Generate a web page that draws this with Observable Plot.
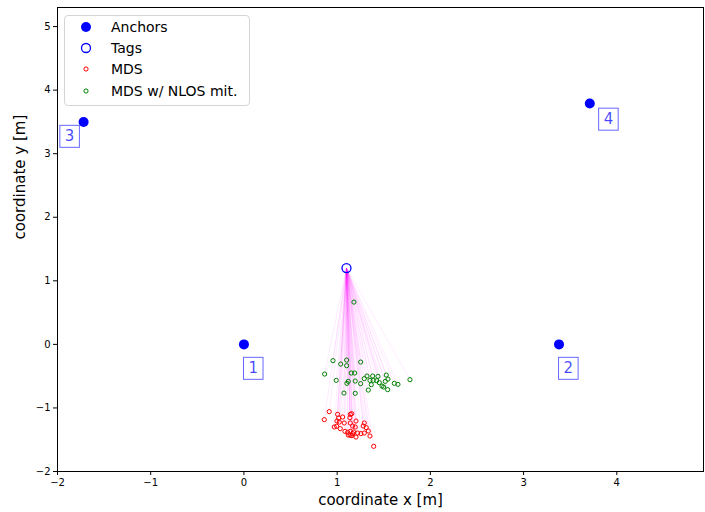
<!DOCTYPE html>
<html>
<head>
<meta charset="utf-8">
<script src="https://cdn.jsdelivr.net/npm/d3@7"></script>
<script src="https://cdn.jsdelivr.net/npm/@observablehq/plot@0.6"></script>
<style>
  body { margin: 0; background: #fff; }
  #wrap { position: relative; width: 705px; height: 512px; font-family: "DejaVu Sans", sans-serif; }
  #legend { position: absolute; left: 64px; top: 15px; width: 184px; height: 89px; border: 1px solid #d5d5d5; border-radius: 4px; background: rgba(255,255,255,0.85); font: 14px "DejaVu Sans", sans-serif; color: #000; }
  .row { position: absolute; left: 0; height: 20px; }
  .row svg { position: absolute; left: 11px; top: 0; }
  .row span { position: absolute; left: 46px; top: 1px; white-space: nowrap; line-height: 18px; }
</style>
</head>
<body>
<div id="wrap"><div id="legend"></div></div>
<script>
// ---- data ----
const anchorX = [0, 3.38, -1.72, 3.71];
const anchorY = [0, 0, 3.50, 3.79];
const anchorLabel = ["1", "2", "3", "4"];
const labelX = [0.10, 3.48, -1.87, 3.91];
const labelY = [-0.38, -0.38, 3.27, 3.54];

const tagX = [1.10];
const tagY = [1.20];

const mdsX = [0.915,0.862,1.005,1.016,1.059,1.141,1.156,1.137,1.202,0.998,1.023,1.076,1.141,1.166,1.194,1.291,1.280,0.969,0.995,1.033,1.084,1.113,1.141,1.166,1.202,1.141,1.220,1.255,1.291,1.312,1.334,1.352,1.392,1.177,1.119,1.159];
const mdsY = [-1.058,-1.184,-1.101,-1.159,-1.143,-1.101,-1.090,-1.153,-1.206,-1.206,-1.222,-1.237,-1.237,-1.285,-1.300,-1.237,-1.285,-1.300,-1.289,-1.325,-1.368,-1.384,-1.368,-1.404,-1.458,-1.431,-1.395,-1.404,-1.395,-1.310,-1.363,-1.442,-1.604,-1.379,-1.426,-1.436];

const nlosX = [0.955,1.102,1.038,1.102,1.252,0.866,1.151,1.188,0.990,1.119,1.105,1.194,1.252,1.291,1.320,1.381,1.438,1.527,1.352,1.387,1.424,1.452,1.366,1.481,1.516,1.545,1.613,1.652,1.781,1.499,1.334,1.542,1.073,1.194,1.180];
const nlosY = [-0.256,-0.247,-0.310,-0.335,-0.278,-0.467,-0.451,-0.451,-0.566,-0.582,-0.613,-0.577,-0.618,-0.539,-0.498,-0.498,-0.503,-0.483,-0.566,-0.566,-0.571,-0.602,-0.634,-0.656,-0.582,-0.546,-0.613,-0.629,-0.555,-0.671,-0.719,-0.712,-0.766,-0.770,0.665];

const xTicks = [-2, -1, 0, 1, 2, 3, 4];
const yTicks = [-2, -1, 0, 1, 2, 3, 4, 5];
const xTitle = "coordinate x [m]";
const yTitle = "coordinate y [m]";
const legendLabels = ["Anchors", "Tags", "MDS", "MDS w/ NLOS mit."];

// ---- tables ----
const anchors = anchorX.map((x, i) => ({x, y: anchorY[i]}));
const labels = labelX.map((x, i) => ({x, y: labelY[i], t: anchorLabel[i]}));
const tags = tagX.map((x, i) => ({x, y: tagY[i]}));
const mds = mdsX.map((x, i) => ({x, y: mdsY[i]}));
const nlos = nlosX.map((x, i) => ({x, y: nlosY[i]}));
const links = [...nlos, ...mds].map(d => ({x1: tagX[0], y1: tagY[0], x2: d.x, y2: d.y}));

const chart = Plot.plot({
  width: 705,
  height: 512,
  marginLeft: 57,
  marginRight: 2,
  marginTop: 7,
  marginBottom: 41,
  style: {fontFamily: "DejaVu Sans, sans-serif", fontSize: "10px", color: "#000", background: "#fff"},
  x: {domain: [-2, 4.93]},
  y: {domain: [-2, 5.3]},
  marks: [
    Plot.link(links, {x1: "x1", y1: "y1", x2: "x2", y2: "y2", stroke: "#ff00ff", strokeOpacity: 0.16, strokeWidth: 0.5}),
    Plot.dot(anchors, {x: "x", y: "y", r: 5, fill: "blue", stroke: "none"}),
    Plot.dot(tags, {x: "x", y: "y", r: 4.5, fill: "none", stroke: "blue", strokeWidth: 1.3}),
    Plot.dot(mds, {x: "x", y: "y", r: 2.1, fill: "none", stroke: "red", strokeWidth: 1}),
    Plot.dot(nlos, {x: "x", y: "y", r: 2.1, fill: "none", stroke: "green", strokeWidth: 1}),
    Plot.text(labels, {x: "x", y: "y", text: "t", fontSize: 15, fill: "blue", fillOpacity: 0.72}),
    Plot.frame({stroke: "#000", strokeWidth: 1}),
    Plot.axisX({ticks: xTicks, tickSize: 4, tickPadding: 3, tickFormat: d3.format("d"), label: null}),
    Plot.axisY({ticks: yTicks, tickSize: 4, tickPadding: 3, tickFormat: d3.format("d"), label: null}),
    Plot.text([xTitle], {frameAnchor: "bottom", dy: 33, fontSize: 15, text: d => d, fill: "#000"}),
    Plot.text([yTitle], {frameAnchor: "left", dx: -37, rotate: -90, fontSize: 15, text: d => d, fill: "#000"})
  ]
});

const wrap = document.getElementById("wrap");
wrap.insertBefore(chart, wrap.firstChild);

// boxes around anchor labels
d3.select(chart).selectAll("g[aria-label='text'] text").each(function() {
  if (!anchorLabel.includes(this.textContent)) return;
  const b = this.getBBox();
  const padX = 5, padY = 3;
  const r = document.createElementNS("http://www.w3.org/2000/svg", "rect");
  r.setAttribute("x", b.x - padX);
  r.setAttribute("y", b.y - padY + 1);
  r.setAttribute("width", b.width + 2 * padX);
  r.setAttribute("height", b.height + 2 * padY - 2);
  r.setAttribute("fill", "white");
  r.setAttribute("stroke", "blue");
  r.setAttribute("stroke-opacity", "0.6");
  r.setAttribute("stroke-width", "1");
  const t = this.getAttribute("transform");
  if (t) r.setAttribute("transform", t);
  this.parentNode.insertBefore(r, this);
});

// legend
const legend = document.getElementById("legend");
const markers = [
  `<circle cx="10" cy="10" r="5" fill="blue"/>`,
  `<circle cx="10" cy="10" r="4.5" fill="none" stroke="blue" stroke-width="1.3"/>`,
  `<circle cx="10" cy="10" r="2.1" fill="none" stroke="red" stroke-width="1"/>`,
  `<circle cx="10" cy="10" r="2.1" fill="none" stroke="green" stroke-width="1"/>`
];
const rowTops = [1, 22, 43, 65];
legendLabels.forEach((lab, i) => {
  const row = document.createElement("div");
  row.className = "row";
  row.style.top = rowTops[i] + "px";
  row.innerHTML = `<svg width="20" height="20">${markers[i]}</svg><span>${lab}</span>`;
  legend.appendChild(row);
});
</script>
</body>
</html>
